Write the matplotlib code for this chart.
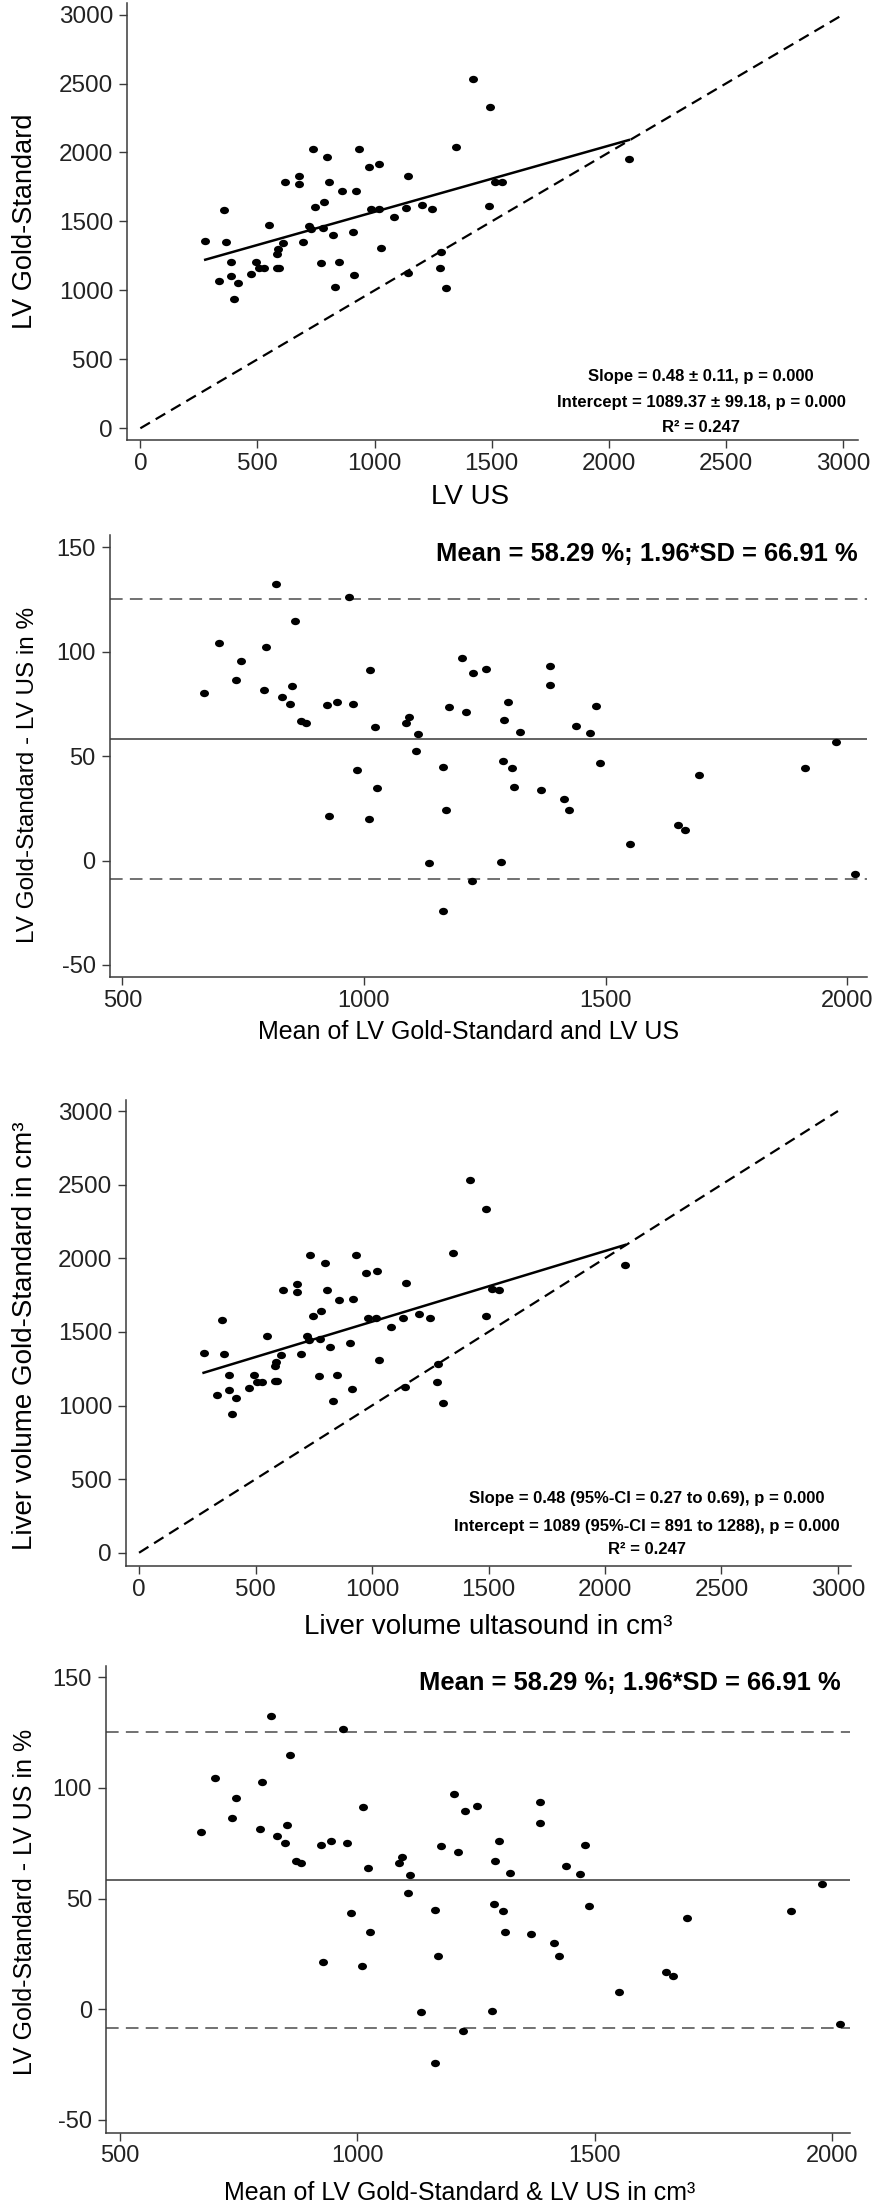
import matplotlib
matplotlib.use("Agg")
import matplotlib.pyplot as plt
from matplotlib.path import Path
from matplotlib.transforms import Affine2D

plt.rcParams['font.family'] = ['Liberation Sans', 'DejaVu Sans']
plt.rcParams['axes.unicode_minus'] = False

# liver volume, ultrasound vs gold standard (cm3)
lv_us = [277, 357, 364, 334, 388, 388, 417, 400, 471, 495, 508, 529, 550, 582, 586,
         582, 593, 609, 616, 677, 677, 696, 721, 728, 735, 745, 772, 778, 782, 799,
         807, 821, 831, 848, 859, 906, 913, 919, 932, 976, 983, 1021, 1019, 1028, 1083,
         1134, 1144, 1142, 1203, 1247, 1284, 1281, 1304, 1421, 1491, 1346, 1513, 1543, 1489, 2086]
lv_gs = [1359, 1584, 1352, 1069, 1207, 1103, 1054, 941, 1117, 1209, 1161, 1163, 1473, 1267, 1298,
         1165, 1165, 1344, 1785, 1826, 1772, 1349, 1470, 1444, 2024, 1608, 1202, 1451, 1639, 1966,
         1787, 1398, 1028, 1204, 1719, 1422, 1110, 1724, 2024, 1898, 1591, 1913, 1591, 1306, 1535,
         1596, 1833, 1127, 1620, 1591, 1279, 1161, 1020, 2532, 2333, 2038, 1789, 1785, 1610, 1951]

# Bland-Altman: mean of both methods vs difference in %
ba_mean = [670, 701, 736, 745, 798, 794, 817, 831, 847, 852, 858, 870, 881, 923, 928,
           944, 970, 977, 986, 1010, 1012, 1022, 1026, 1087, 1094, 1111, 1107,
           1134, 1164, 1163, 1169, 1176, 1203, 1211, 1226, 1223, 1252, 1283, 1287, 1290, 1298,
           1306, 1311, 1322, 1366, 1384, 1385, 1413, 1424, 1439, 1468, 1479, 1488, 1550, 1649,
           1665, 1694, 1913, 1977, 2016]
ba_pct = [80.2, 104.2, 86.4, 95.4, 102.4, 81.5, 132.3, 78.4, 75.1, 83.4, 114.9, 66.9, 66.0, 74.3, 21.4,
          75.9, 126.4, 75.1, 43.5, 19.7, 91.1, 63.9, 34.7, 66.0, 68.9, 60.7, 52.3,
          -1.2, 44.8, -24.2, 24.1, 73.5, 97.2, 71.2, 89.6, -9.9, 91.6, -0.6, 47.6, 67.1, 75.9,
          44.3, 35.0, 61.4, 34.0, 93.4, 84.3, 29.7, 24.1, 64.6, 61.2, 74.1, 46.6, 7.9, 16.9,
          14.8, 41.0, 44.3, 56.6, -6.5]

slope, intercept = 0.48, 1089.37
mean_pct, sd196_pct = 58.29, 66.91

scatter_ticks = [0, 500, 1000, 1500, 2000, 2500, 3000]
ba_xticks = [500, 1000, 1500, 2000]
ba_yticks = [-50, 0, 50, 100, 150]

W, H = 876, 2207
fig = plt.figure(figsize=(W / 100, H / 100), dpi=100)
AX = '#3a3a3a'
# dots in the original are slightly wider than tall
dot = Path.unit_circle().transformed(Affine2D().scale(1.0, 0.82))


def box(left, top, right, bottom):
    return [left / W, 1 - bottom / H, (right - left) / W, (bottom - top) / H]


def txt(x, y, s, **kw):
    fig.text(x / W, 1 - y / H, s, ha=kw.pop('ha', 'center'), va=kw.pop('va', 'center'), **kw)


def style(ax, size):
    for side in ['top', 'right']:
        ax.spines[side].set_visible(False)
    for side in ['left', 'bottom']:
        ax.spines[side].set_color(AX)
        ax.spines[side].set_linewidth(1.1)
    ax.tick_params(direction='out', length=6, width=1.0, color=AX, labelsize=size, labelcolor='#222222')
    ax.tick_params(axis='x', pad=3)
    ax.tick_params(axis='y', pad=4)


def scatter_panel(ax, size):
    ax.scatter(lv_us, lv_gs, s=42, marker=dot, color='black', linewidths=0, zorder=3)
    xs = [min(lv_us), max(lv_us)]
    ax.plot(xs, [intercept + slope * x for x in xs], color='black', lw=1.8)
    ax.plot([0, 3000], [0, 3000], color='black', lw=1.6, ls=(0, (5, 3)))
    ax.set_xticks(scatter_ticks)
    ax.set_yticks(scatter_ticks)
    style(ax, size)


def ba_panel(ax, size):
    ax.scatter(ba_mean, ba_pct, s=42, marker=dot, color='black', linewidths=0, zorder=3)
    ax.axhline(mean_pct, color='#555555', lw=1.3)
    for lim in [mean_pct + sd196_pct, mean_pct - sd196_pct]:
        ax.axhline(lim, color='#666666', lw=1.3, ls=(0, (7, 4)))
    ax.set_xticks(ba_xticks)
    ax.set_yticks(ba_yticks)
    style(ax, size)


# panel 1
ax1 = fig.add_axes(box(127, 3, 858, 440))
scatter_panel(ax1, 17.5)
ax1.set_xlim(-57, 3064)
ax1.set_ylim(-85, 3084)
txt(25, 221, 'LV Gold-Standard', rotation=90, fontsize=19.5)
txt(470, 497, 'LV US', fontsize=20)
for y, s in zip([377, 403, 428], ['Slope = 0.48 ± 0.11, p = 0.000',
                                   'Intercept = 1089.37 ± 99.18, p = 0.000',
                                   'R² = 0.247']):
    txt(701, y, s, fontsize=12, fontweight='bold')

# panel 2
ax2 = fig.add_axes(box(109.5, 535, 866.7, 977.3))
ba_panel(ax2, 17)
ax2.set_xlim(473.5, 2040)
ax2.set_ylim(-55.9, 155.9)
txt(28, 775, 'LV Gold-Standard - LV US in %', rotation=90, fontsize=17.5)
txt(469, 1032, 'Mean of LV Gold-Standard and LV US', fontsize=18)
txt(858, 554, 'Mean = 58.29 %; 1.96*SD = 66.91 %', ha='right', fontsize=18.4, fontweight='bold')

# panel 3
ax3 = fig.add_axes(box(126, 1100, 851, 1566))
scatter_panel(ax3, 17.5)
ax3.set_xlim(-56, 3056)
ax3.set_ylim(-90, 3075)
txt(25, 1336, 'Liver volume Gold-Standard in cm³', rotation=90, fontsize=20)
txt(488, 1627, 'Liver volume ultasound in cm³', fontsize=20)
for y, s in zip([1498, 1526, 1550], ['Slope = 0.48 (95%-CI = 0.27 to 0.69), p = 0.000',
                                      'Intercept = 1089 (95%-CI = 891 to 1288), p = 0.000',
                                      'R² = 0.247']):
    txt(647, y, s, fontsize=12, fontweight='bold')

# panel 4
ax4 = fig.add_axes(box(106, 1666, 850, 2133))
ba_panel(ax4, 17)
ax4.set_xlim(470.5, 2037)
ax4.set_ylim(-55.9, 155)
txt(25, 1902, 'LV Gold-Standard - LV US in %', rotation=90, fontsize=18)
txt(460, 2193, 'Mean of LV Gold-Standard & LV US in cm³', fontsize=18)
txt(841, 1683, 'Mean = 58.29 %; 1.96*SD = 66.91 %', ha='right', fontsize=18.4, fontweight='bold')

fig.savefig('out.png', dpi=100, facecolor='white')
